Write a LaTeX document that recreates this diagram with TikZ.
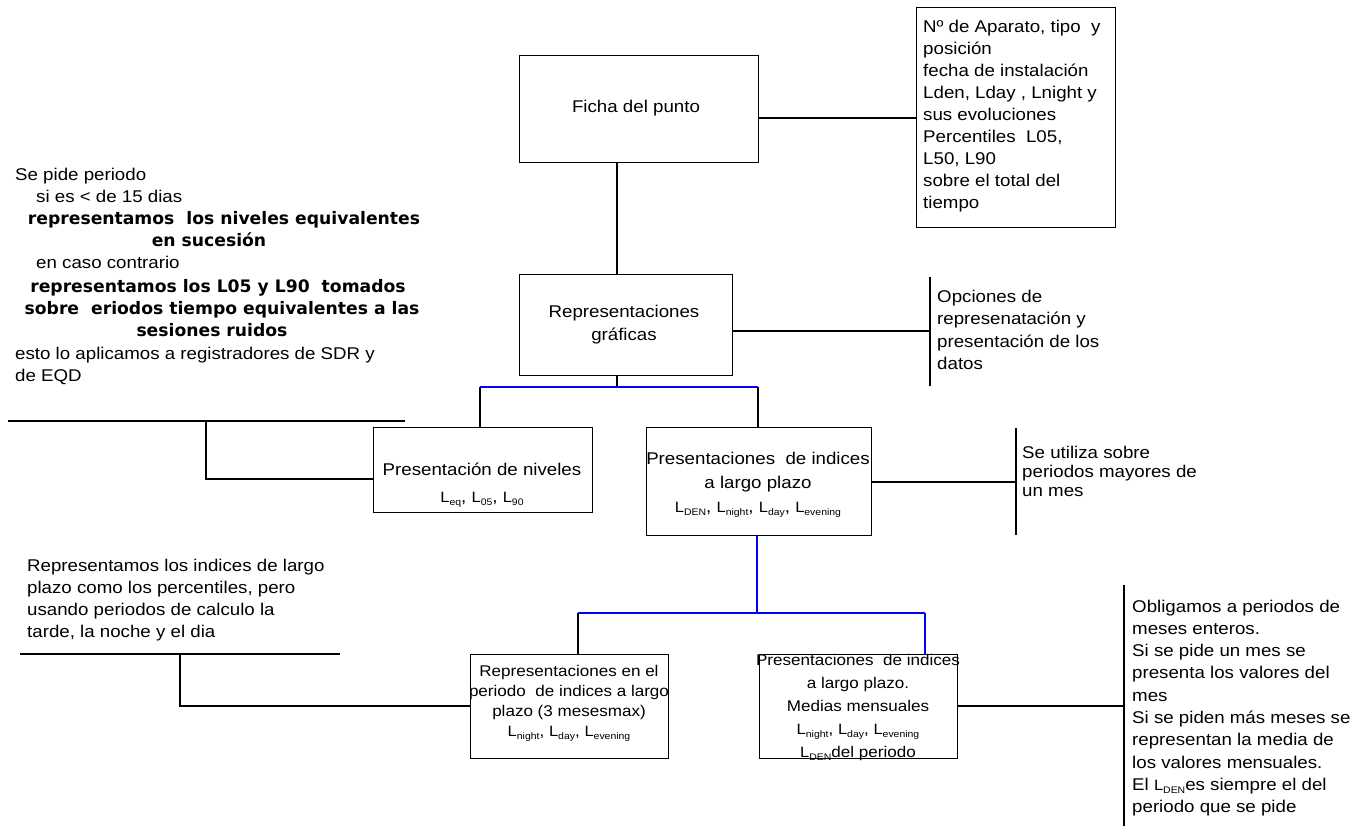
\documentclass[tikz,border=0pt]{standalone}
\usepackage{fontspec}
\setmainfont{Liberation Sans}[FakeStretch=1.1]
\newfontfamily\dvs{DejaVu Sans}
\newcommand\Lft[2]{\vtop{\baselineskip=#1\lineskiplimit=-50pt\lineskip=0pt\relax\halign{##\hfil\cr#2\crcr}}}
\newcommand\Ctr[2]{\vtop{\baselineskip=#1\lineskiplimit=-50pt\lineskip=0pt\relax\halign{\hfil##\hfil\cr#2\crcr}}}
\newcommand\Ls[1]{{\fontsize{15}{15}\selectfont L}\raisebox{-3pt}{\fontsize{9.5}{9.5}\selectfont #1}}
\definecolor{conblue}{RGB}{0,0,255}
\begin{document}
\begin{tikzpicture}[x=1pt,y=-1pt,
  box/.style={draw, line width=1.3pt, inner sep=0pt, anchor=north west},
  ln/.style={line width=1.2pt, black},
  bl/.style={line width=1.2pt, conblue},
  txt/.style={inner sep=0pt, font=\fontsize{17}{22}\selectfont},
  stxt/.style={inner sep=0pt, font=\fontsize{15.5}{20}\selectfont},
  bt/.style={inner sep=0pt, font=\dvs\bfseries\fontsize{17.2}{22}\selectfont, anchor=base}]
\useasboundingbox[fill=white] (0,0) rectangle (1355,825);

% ---------- boxes ----------
\node[box, minimum width=239pt, minimum height=107pt] (ficha) at (519,55) {};
\node[box, minimum width=199pt, minimum height=220pt] (info) at (916,7) {};
\node[box, minimum width=213pt, minimum height=101pt] (rep) at (519,274) {};
\node[box, minimum width=219pt, minimum height=85pt] (niv) at (373,427) {};
\node[box, minimum width=225pt, minimum height=108pt] (ind) at (646,427) {};
\node[box, minimum width=198pt, minimum height=104pt] (per) at (470,654) {};
\node[box, minimum width=198pt, minimum height=104pt] (med) at (759,654) {};

% ---------- box texts ----------
\node[txt, anchor=base] (fichat) at (636,112) {Ficha del punto};
\node[txt, anchor=base] (rept) at (624,317) {\Ctr{23pt}{Representaciones\cr gráficas}};
\node[txt, anchor=base] (nivt) at (482,475) {\Ctr{27pt}{Presentación de niveles\cr \Ls{eq}, \Ls{05}, \Ls{90}}};
\node[txt, anchor=base] (indt) at (758,464) {\Ctr{24pt}{Presentaciones\ \ de indices\cr a largo plazo\cr \Ls{DEN}, \Ls{night}, \Ls{day}, \Ls{evening}}};
\node[stxt, anchor=base] (pert) at (569,676) {\Ctr{20pt}{Representaciones en el\cr periodo\ \ de indices a largo\cr plazo (3 mesesmax)\cr \Ls{night}, \Ls{day}, \Ls{evening}}};
\node[stxt, anchor=base] (medt) at (858,665) {\Ctr{23pt}{Presentaciones\ \ de indices\cr a largo plazo.\cr Medias mensuales\cr \Ls{night}, \Ls{day}, \Ls{evening}\cr \Ls{DEN}del periodo}};

\node[txt, anchor=base west] (infot) at (923,32) {\Lft{22.1pt}{Nº de Aparato, tipo\ \ y\cr posición\cr fecha de instalación\cr Lden, Lday\ , Lnight y\cr sus evoluciones\cr Percentiles\ \ L05,\cr L50, L90\cr sobre el total del\cr tiempo}};

% ---------- notes ----------
\node[txt, anchor=base west] (optt) at (937,302) {\Lft{22.5pt}{Opciones de\cr represenatación y\cr presentación de los\cr datos}};
\node[txt, anchor=base west] (utt) at (1022,458) {\Lft{19pt}{Se utiliza sobre\cr periodos mayores de\cr un mes}};
\node[txt, anchor=base west] (lbt) at (27,571) {\Lft{22pt}{Representamos los indices de largo\cr plazo como los percentiles, pero\cr usando periodos de calculo la\cr tarde, la noche y el dia}};
\node[txt, anchor=base west] (rbt) at (1132,612) {\Lft{22.3pt}{Obligamos a periodos de\cr meses enteros.\cr Si se pide un mes se\cr presenta los valores del\cr mes\cr Si se piden más meses se\cr representan la media de\cr los valores mensuales.\cr El \Ls{DEN}es siempre el del\cr periodo que se pide}};

\node[txt, anchor=base west] (n1) at (15,180) {Se pide periodo};
\node[txt, anchor=base west] (n2) at (36,202) {si es < de 15 dias};
\node[bt] (n3) at (224,224) {representamos\ \ los niveles equivalentes};
\node[bt] (n4) at (209,246) {en sucesión};
\node[txt, anchor=base west] (n5) at (36,268) {en caso contrario};
\node[bt] (n6) at (218,292) {representamos los L05 y L90\ \ tomados};
\node[bt] (n7) at (222,314) {sobre\ \ eriodos tiempo equivalentes a las};
\node[bt] (n8) at (212,336) {sesiones ruidos};
\node[txt, anchor=base west] (n9) at (15,359) {\Lft{22pt}{esto lo aplicamos a registradores de SDR y\cr de EQD}};

% ---------- coordinates ----------
\coordinate (spine) at (617,0);
\coordinate (fy) at (0,118);
\coordinate (ry) at (0,331);
\coordinate (optT) at (930,277);
\coordinate (optB) at (930,386);
\coordinate (b1) at (0,387);
\coordinate (nx) at (480,0);
\coordinate (ix) at (758,0);
\coordinate (lt1) at (8,421);
\coordinate (lt2) at (405,421);
\coordinate (lk) at (206,479);
\coordinate (iy) at (0,482);
\coordinate (uT) at (1016,428);
\coordinate (uB) at (1016,535);
\coordinate (b2) at (0,613);
\coordinate (ix2) at (757,0);
\coordinate (px) at (578,0);
\coordinate (mx) at (925,0);
\coordinate (lb1) at (20,654);
\coordinate (lb2) at (340,654);
\coordinate (lk2) at (180,706);
\coordinate (my) at (0,706);
\coordinate (oT) at (1124,585);
\coordinate (oB) at (1124,826);

% ---------- connectors ----------
\draw[ln] (ficha.east |- fy) -- (info.west |- fy);
\draw[ln] (ficha.south -| spine) -- (rep.north -| spine);
\draw[ln] (rep.east |- ry) -- (optT |- ry);
\draw[ln] (optT) -- (optB);
\draw[ln] (rep.south -| spine) -- (spine |- b1);
\draw[bl] (nx |- b1) -- (ix |- b1);
\draw[ln] (nx |- b1) -- (niv.north -| nx);
\draw[ln] (ix |- b1) -- (ind.north -| ix);
\draw[ln] (lt1) -- (lt2);
\draw[ln] (lk |- lt1) -- (lk) -- (niv.west |- lk);
\draw[ln] (ind.east |- iy) -- (uT |- iy);
\draw[ln] (uT) -- (uB);
\draw[bl] (ind.south -| ix2) -- (ix2 |- b2);
\draw[bl] (px |- b2) -- (mx |- b2);
\draw[ln] (px |- b2) -- (per.north -| px);
\draw[bl] (mx |- b2) -- (med.north -| mx);
\draw[ln] (lb1) -- (lb2);
\draw[ln] (lk2 |- lb1) -- (lk2) -- (per.west |- lk2);
\draw[ln] (med.east |- my) -- (oT |- my);
\draw[ln] (oT) -- (oB);
\end{tikzpicture}
\end{document}
